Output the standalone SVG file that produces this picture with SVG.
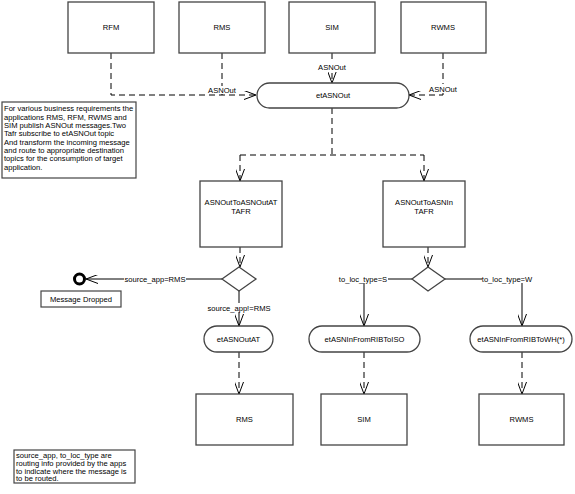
<svg xmlns="http://www.w3.org/2000/svg" width="575" height="494" viewBox="0 0 575 494">
<style>
text{font-family:"Liberation Sans",Arial,sans-serif;font-size:7.6px;fill:#000}
.c{text-anchor:middle}
.box{fill:#fff;stroke:#444;stroke-width:1.3}
.note{fill:#fff;stroke:#444;stroke-width:1.2}
.d{fill:none;stroke:#000;stroke-width:1;stroke-dasharray:6,4}
.s{fill:none;stroke:#000;stroke-width:1}
.a{marker-end:url(#arr)}
.bg{fill:#fff}
</style>
<defs>
<marker id="arr" viewBox="0 0 12 9" refX="12" refY="4.5" markerWidth="12" markerHeight="9" markerUnits="userSpaceOnUse" orient="auto">
<path d="M0,0 L12,4.5 L0,9" fill="none" stroke="#000" stroke-width="1"/>
</marker>
</defs>
<rect width="575" height="494" fill="#fff"/>
<g id="connectors">
<path class="d a" d="M111,53 V95 H256"/>
<path class="d" d="M222,53 V95"/>
<path class="d a" d="M332,53 V83"/>
<path class="d a" d="M443,53 V95 H409"/>
<path class="d" d="M332,108 V155 M240,155 H424"/>
<path class="d a" d="M240,155 V181"/>
<path class="d a" d="M424,155 V181"/>
<path class="d a" d="M240,247 V267"/>
<path class="s a" d="M222,279 H86"/>
<path class="s a" d="M239,291 V326"/>
<path class="d a" d="M239,352 V394"/>
<path class="d a" d="M428,247 V267"/>
<path class="s a" d="M412,279 H364 V326"/>
<path class="s a" d="M445,279 H522 V326"/>
<path class="d a" d="M364,352 V394"/>
<path class="d a" d="M522,352 V394"/>
<rect class="bg" x="206" y="86" width="32" height="8"/>
<text class="c" x="222" y="93">ASNOut</text>
<rect class="bg" x="316" y="63" width="32" height="9"/>
<text class="c" x="332" y="70">ASNOut</text>
<rect class="bg" x="428" y="84" width="31" height="9"/>
<text class="c" x="443" y="92">ASNOut</text>
<rect class="bg" x="124" y="274" width="62" height="9"/>
<text class="c" x="155" y="281.5">source_app=RMS</text>
<rect class="bg" x="205" y="303" width="68" height="9"/>
<text class="c" x="239" y="310.5">source_app!=RMS</text>
<rect class="bg" x="339" y="274" width="49" height="9"/>
<text class="c" x="363" y="281.5">to_loc_type=S</text>
<rect class="bg" x="482" y="274" width="51" height="9"/>
<text class="c" x="507" y="281.5">to_loc_type=W</text>
</g>
<g id="RFM"><rect class="box" x="68" y="2" width="86" height="51"/><text class="c" x="111" y="30">RFM</text></g>
<g id="RMS_src"><rect class="box" x="179" y="2" width="86" height="51"/><text class="c" x="222" y="30">RMS</text></g>
<g id="SIM_src"><rect class="box" x="289" y="2" width="86" height="51"/><text class="c" x="332" y="30">SIM</text></g>
<g id="RWMS_src"><rect class="box" x="401" y="2" width="85" height="51"/><text class="c" x="443" y="30">RWMS</text></g>
<g id="etASNOut"><rect class="box" x="257" y="83" width="152" height="25" rx="12.5"/><text class="c" x="333" y="98">etASNOut</text></g>
<g id="note1"><rect class="note" x="2" y="102" width="134" height="76"/>
<text x="4" y="111">For various business requirements the</text>
<text x="4" y="119.5">applications RMS, RFM, RWMS and</text>
<text x="4" y="128">SIM publish ASNOut messages.Two</text>
<text x="4" y="136.3">Tafr subscribe to etASNOut topic</text>
<text x="4" y="144.7">And transform the incoming message</text>
<text x="4" y="153">and route to appropriate destination</text>
<text x="4" y="161.3">topics for the consumption of target</text>
<text x="4" y="169.7">application.</text>
</g>
<g id="tafr1"><rect class="box" x="200" y="181" width="82" height="66"/><text class="c" x="241" y="205">ASNOutToASNOutAT</text><text class="c" x="241" y="214">TAFR</text></g>
<g id="tafr2"><rect class="box" x="383" y="181" width="82" height="66"/><text class="c" x="424" y="205">ASNOutToASNIn</text><text class="c" x="424" y="214">TAFR</text></g>
<g id="decision1"><path class="box" d="M239,267 L256,279 L239,291 L222,279 Z"/></g>
<g id="decision2"><path class="box" d="M428,267 L445,279 L428,291 L412,279 Z"/></g>
<g id="final"><circle cx="79.5" cy="279" r="5" fill="#fff" stroke="#000" stroke-width="3"/></g>
<g id="dropped"><rect class="note" x="41" y="291" width="80" height="16"/><text class="c" x="81" y="302">Message Dropped</text></g>
<g id="etASNOutAT"><rect class="box" x="204" y="326" width="69" height="26" rx="13"/><text class="c" x="238.5" y="341.5">etASNOutAT</text></g>
<g id="etISO"><rect class="box" x="309" y="326" width="111" height="26" rx="13"/><text class="c" x="364.5" y="341.5">etASNInFromRIBToISO</text></g>
<g id="etWH"><rect class="box" x="470" y="326" width="102" height="26" rx="13"/><text class="c" x="521" y="341.5">etASNInFromRIBToWH(*)</text></g>
<g id="RMS_dst"><rect class="box" x="196" y="394" width="97" height="51"/><text class="c" x="244.5" y="422">RMS</text></g>
<g id="SIM_dst"><rect class="box" x="321" y="394" width="86" height="51"/><text class="c" x="364" y="422">SIM</text></g>
<g id="RWMS_dst"><rect class="box" x="479" y="394" width="85" height="51"/><text class="c" x="521.5" y="422">RWMS</text></g>
<g id="note2"><rect class="note" x="14" y="450" width="121" height="33"/>
<text x="16" y="458">source_app, to_loc_type are</text>
<text x="16" y="465.8">routing info provided by the apps</text>
<text x="16" y="473.6">to indicate where the message is</text>
<text x="16" y="481.4">to be routed.</text>
</g>
</svg>
